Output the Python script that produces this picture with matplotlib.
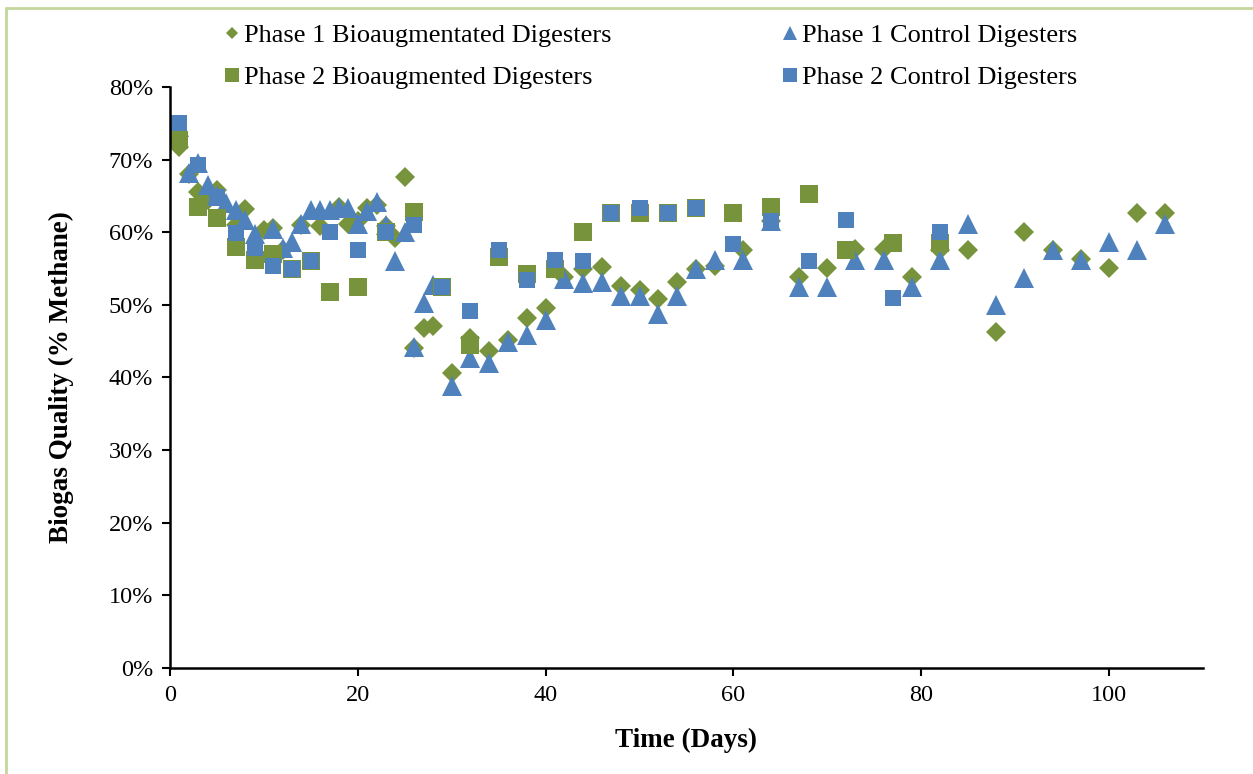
import numpy as np
import matplotlib.pyplot as plt
from matplotlib.lines import Line2D
from matplotlib.patches import Rectangle
from matplotlib.ticker import PercentFormatter

plt.rcParams['font.family'] = ['Liberation Serif', 'DejaVu Serif']

# Phase 1 bioaugmented digesters (% methane)
p1_bio_days = [1, 2, 3, 4, 5, 7, 8, 10, 11, 12, 14, 16, 18, 19, 20, 21, 22, 23, 24, 25,
               26, 27, 28,
               30, 32, 34, 36, 38, 40, 42, 44, 46, 48, 50, 52, 54, 56, 58,
               61, 64, 67, 70, 73, 76, 79, 82, 85, 88, 91, 94, 97, 100, 103, 106]
p1_bio = [71.8, 68.0, 65.5, 64.5, 65.8, 61.0, 63.2, 60.3, 60.6, 57.5, 61.0, 60.8, 63.5, 61.2, 61.5, 63.3, 63.7, 60.8, 59.2, 67.6,
          44.0, 46.8, 47.1,
          40.6, 45.5, 43.6, 45.2, 48.2, 49.6, 53.8, 55.0, 55.2, 52.6, 52.0, 50.8, 53.2, 55.0, 55.3,
          57.6, 61.5, 53.8, 55.1, 57.7, 57.7, 53.8, 57.6, 57.6, 46.3, 60.1, 57.6, 56.3, 55.1, 62.6, 62.6]

# Phase 1 control digesters
p1_ctrl_days = [1, 2, 3, 4, 5, 6, 7, 8, 9,
                11, 12, 13, 14, 15, 16, 17, 18, 19, 20, 21, 22, 23, 24, 25, 26, 27, 28,
                30, 32, 34, 36, 38, 40, 42, 44, 46, 48, 50, 52, 54, 56, 58,
                61, 64, 67, 70, 73, 76, 79, 82, 85, 88, 91, 94, 97, 100, 103, 106]
p1_ctrl = [74.5, 68.1, 69.6, 66.5, 65.0, 64.0, 63.1, 61.7, 59.8,
           60.5, 57.8, 58.7, 61.2, 63.1, 63.1, 63.1, 63.3, 63.3, 61.2, 62.9, 64.2, 61.0, 56.0, 60.1, 44.2, 50.3, 52.8,
           38.8, 42.7, 42.0, 44.9, 45.9, 47.9, 53.5, 53.0, 53.1, 51.2, 51.2, 48.8, 51.2, 54.9, 56.2,
           56.2, 61.5, 52.5, 52.5, 56.2, 56.2, 52.5, 56.2, 61.2, 50.0, 53.7, 57.5, 56.2, 58.7, 57.5, 61.2]

# Phase 2 digesters
p2_days = [1, 3, 5, 7, 9, 11, 13, 15, 17, 20, 23, 26, 29, 32, 35, 38, 41, 44, 47, 50,
           53, 56, 60, 64, 68, 72, 77, 82]
p2_bio = [72.7, 63.5, 61.9, 58.0, 56.2, 57.0, 55.0, 56.0, 51.8, 52.5, 60.1, 62.8, 52.5, 44.5,
          56.6, 54.3, 55.0, 60.0, 62.6, 62.6, 62.6, 63.3, 62.6, 63.5, 65.2, 57.6, 58.5, 58.5]
p2_ctrl = [75.0, 69.3, 64.8, 59.9, 57.8, 55.3, 55.0, 56.0, 60.1, 57.6, 60.1, 61.0, 52.5, 49.2,
           57.6, 53.4, 56.2, 56.0, 62.6, 63.4, 62.6, 63.3, 58.4, 61.6, 56.0, 61.7, 50.9, 60.1]

green = '#77933C'
blue = '#4F81BD'

fig = plt.figure(figsize=(12.53, 7.74), dpi=100)
ax = fig.add_axes([0.1357, 0.137, 0.8243, 0.7506])

ax.plot(p1_bio_days, p1_bio, 'D', color=green, ms=10, mew=0, ls='none')
ax.plot(p1_ctrl_days, p1_ctrl, '^', color=blue, ms=14.5, mew=0, ls='none')
ax.plot(p2_days, p2_bio, 's', color=green, ms=13.5, mew=0, ls='none')
ax.plot(p2_days, p2_ctrl, 's', color=blue, ms=11.5, mew=0, ls='none')

ax.set_xlim(0, 110)
ax.set_ylim(0, 80)
ax.set_xticks([0, 20, 40, 60, 80, 100])
ax.set_yticks(np.arange(0, 81, 10))
ax.yaxis.set_major_formatter(PercentFormatter(decimals=0))
ax.tick_params(direction='out', length=6, width=1.5, labelsize=17.5, pad=6)
for s in ['top', 'right']:
    ax.spines[s].set_visible(False)
for s in ['left', 'bottom']:
    ax.spines[s].set_linewidth(1.8)
for s in ax.spines.values():
    s.set_clip_on(False)

ax.set_xlabel('Time (Days)', fontsize=19.5, fontweight='bold', labelpad=16)
ax.set_ylabel('Biogas Quality (% Methane)', fontsize=19.5, fontweight='bold', labelpad=25)

# legend, two columns placed like the Excel chart
h1 = [Line2D([], [], marker='D', color=green, ms=6.5, mew=0, ls='none'),
      Line2D([], [], marker='s', color=green, ms=9.5, mew=0, ls='none')]
h2 = [Line2D([], [], marker='^', color=blue, ms=9.5, mew=0, ls='none'),
      Line2D([], [], marker='s', color=blue, ms=9.5, mew=0, ls='none')]
kw = dict(loc='upper left', frameon=False, fontsize=19, handlelength=0.6,
          handletextpad=0.15, labelspacing=0.7, borderpad=0, borderaxespad=0)
fig.legend(h1, ['Phase 1 Bioaugmentated Digesters', 'Phase 2 Bioaugmented Digesters'],
           bbox_to_anchor=(0.179, 0.969), **kw)
fig.legend(h2, ['Phase 1 Control Digesters', 'Phase 2 Control Digesters'],
           bbox_to_anchor=(0.624, 0.969), **kw)

# chart area border (light green)
fig.patches.append(Rectangle((6 / 1253, -0.1), 1.2, 0.1 + 766 / 774, transform=fig.transFigure,
                             fill=False, edgecolor='#C3D69B', linewidth=2))

fig.savefig('out.png', dpi=100)
